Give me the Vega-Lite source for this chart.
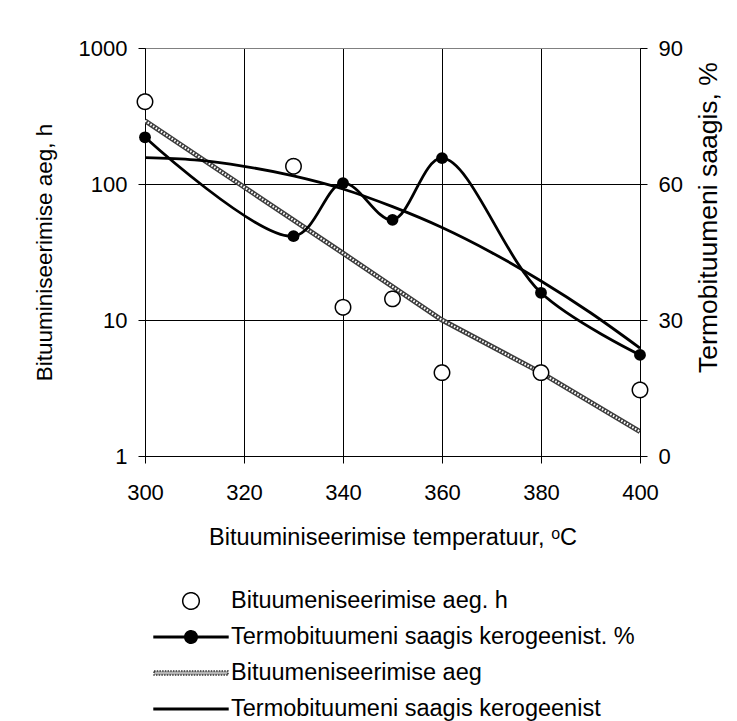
{
  "$schema": "https://vega.github.io/schema/vega-lite/v6.json",
  "width": 495,
  "height": 408,
  "autosize": {"type": "none"},
  "padding": {"left": 145, "top": 48, "right": 97, "bottom": 265},
  "background": "white",
  "config": {
    "font": "Liberation Sans",
    "view": {"stroke": "#808080", "strokeWidth": 1},
    "axis": {
      "labelFont": "Liberation Sans",
      "titleFont": "Liberation Sans",
      "labelFontSize": 22,
      "titleFontSize": 22.5,
      "labelColor": "black",
      "titleColor": "black",
      "titleFontWeight": "normal",
      "domainColor": "black",
      "domainWidth": 1,
      "tickColor": "black",
      "tickWidth": 1,
      "tickSize": 7,
      "labelFlush": false
    },
    "legend": {
      "orient": "none",
      "legendX": 33,
      "legendY": 540,
      "direction": "vertical",
      "padding": 0,
      "labelFont": "Liberation Sans",
      "labelFontSize": 23.5,
      "labelColor": "black",
      "labelOffset": 27,
      "labelLimit": 600,
      "rowPadding": 11,
      "symbolSize": 576,
      "symbolStrokeWidth": 1.5,
      "symbolOpacity": 1
    }
  },
  "datasets": {
    "aeg_h": [
      {"temp": 300, "value": 403, "series": "Bituumeniseerimise aeg. h"},
      {"temp": 330, "value": 135, "series": "Bituumeniseerimise aeg. h"},
      {"temp": 340, "value": 12.4, "series": "Bituumeniseerimise aeg. h"},
      {"temp": 350, "value": 14.3, "series": "Bituumeniseerimise aeg. h"},
      {"temp": 360, "value": 4.1, "series": "Bituumeniseerimise aeg. h"},
      {"temp": 380, "value": 4.1, "series": "Bituumeniseerimise aeg. h"},
      {"temp": 400, "value": 3.06, "series": "Bituumeniseerimise aeg. h"}
    ],
    "aeg_trend": [
      {"temp": 300, "value": 292},
      {"temp": 320, "value": 95},
      {"temp": 340, "value": 31},
      {"temp": 360, "value": 10},
      {"temp": 380, "value": 4.1},
      {"temp": 400, "value": 1.51}
    ],
    "saagis": [
      {"temp": 300, "value": 70.3},
      {"temp": 330, "value": 48.5},
      {"temp": 340, "value": 60.2},
      {"temp": 350, "value": 52.1},
      {"temp": 360, "value": 65.7},
      {"temp": 380, "value": 36.0},
      {"temp": 400, "value": 22.3}
    ],
    "saagis_trend": [
      {"temp": 300, "value": 65.8},
      {"temp": 310, "value": 65.3},
      {"temp": 320, "value": 63.9},
      {"temp": 330, "value": 61.8},
      {"temp": 340, "value": 58.9},
      {"temp": 350, "value": 55.0},
      {"temp": 360, "value": 50.4},
      {"temp": 370, "value": 44.9},
      {"temp": 380, "value": 38.6},
      {"temp": 390, "value": 31.6},
      {"temp": 400, "value": 23.8}
    ]
  },
  "encoding": {
    "x": {
      "field": "temp",
      "type": "quantitative",
      "scale": {"domain": [300, 400], "nice": false, "zero": false},
      "axis": {
        "values": [300, 320, 340, 360, 380, 400],
        "grid": true,
        "gridColor": "black",
        "gridWidth": 1,
        "labelPadding": 19,
        "title": "Bituuminiseerimise temperatuur, ᵒC",
        "titleFontSize": 23.5,
        "titlePadding": 22
      }
    }
  },
  "layer": [
    {
      "encoding": {
        "y": {
          "field": "value",
          "type": "quantitative",
          "scale": {"type": "log", "domain": [1, 1000], "nice": false},
          "axis": {
            "orient": "left",
            "values": [1, 10, 100, 1000],
            "format": "d",
            "grid": true,
            "gridColor": {"condition": {"test": "datum.value === 1000", "value": "#808080"}, "value": "black"},
            "gridWidth": 1,
            "labelPadding": 11,
            "title": "Bituuminiseerimise aeg, h",
            "titlePadding": 22
          }
        }
      },
      "layer": [
        {
          "data": {"name": "aeg_trend"},
          "mark": {"type": "line", "color": "#3c3c3c", "strokeWidth": 5, "clip": true}
        },
        {
          "data": {"name": "aeg_trend"},
          "mark": {"type": "line", "color": "white", "strokeWidth": 2.2, "strokeDash": [1.6, 1.6], "clip": true}
        },
        {
          "data": {"name": "aeg_h"},
          "mark": {"type": "point", "filled": true, "strokeWidth": 1.5, "opacity": 1, "size": 498},
          "encoding": {
            "shape": {
              "field": "series",
              "type": "nominal",
              "scale": {
                "domain": ["Bituumeniseerimise aeg. h", "Termobituumeni saagis kerogeenist. %", "Bituumeniseerimise aeg", "Termobituumeni saagis kerogeenist"],
                "range": [
                  "M-0.69,0A0.69,0.69 0 1,1 0.69,0A0.69,0.69 0 1,1 -0.69,0Z",
                  "M-3.08,-0.06H3.08V0.06H-3.08ZM-0.52,0A0.52,0.52 0 1,1 0.52,0A0.52,0.52 0 1,1 -0.52,0Z",
                  "M-3.08,-0.17H3.08V0.17H-3.08Z",
                  "M-3.08,-0.06H3.08V0.06H-3.08Z"
                ]
              },
              "legend": {"title": null}
            },
            "fill": {
              "field": "series",
              "type": "nominal",
              "scale": {
                "domain": ["Bituumeniseerimise aeg. h", "Termobituumeni saagis kerogeenist. %", "Bituumeniseerimise aeg", "Termobituumeni saagis kerogeenist"],
                "range": ["white", "black", "#b4b4b4", "black"]
              },
              "legend": {"title": null}
            },
            "stroke": {
              "field": "series",
              "type": "nominal",
              "scale": {
                "domain": ["Bituumeniseerimise aeg. h", "Termobituumeni saagis kerogeenist. %", "Bituumeniseerimise aeg", "Termobituumeni saagis kerogeenist"],
                "range": ["black", "black", "#333333", "black"]
              },
              "legend": {"title": null}
            },
            "strokeDash": {
              "field": "series",
              "type": "nominal",
              "scale": {
                "domain": ["Bituumeniseerimise aeg. h", "Termobituumeni saagis kerogeenist. %", "Bituumeniseerimise aeg", "Termobituumeni saagis kerogeenist"],
                "range": [[1, 0], [1, 0], [1.5, 1.2], [1, 0]]
              },
              "legend": {"title": null}
            }
          }
        }
      ]
    },
    {
      "encoding": {
        "y": {
          "field": "value",
          "type": "quantitative",
          "scale": {"domain": [0, 90], "nice": false},
          "axis": {
            "orient": "right",
            "values": [0, 30, 60, 90],
            "grid": false,
            "labelPadding": 11,
            "title": "Termobituumeni saagis, %",
            "titleFontSize": 26.5,
            "titleAngle": 270,
            "titleBaseline": "top",
            "titleY": 169,
            "titlePadding": 13
          }
        }
      },
      "layer": [
        {
          "data": {"name": "saagis_trend"},
          "mark": {"type": "line", "color": "black", "strokeWidth": 2.8, "interpolate": "monotone"}
        },
        {
          "data": {"name": "saagis"},
          "mark": {"type": "line", "color": "black", "strokeWidth": 2.8, "interpolate": "catmull-rom"}
        },
        {
          "data": {"name": "saagis"},
          "mark": {"type": "point", "shape": "circle", "filled": true, "color": "black", "opacity": 1, "size": 140}
        }
      ]
    }
  ],
  "resolve": {"scale": {"y": "independent"}}
}
